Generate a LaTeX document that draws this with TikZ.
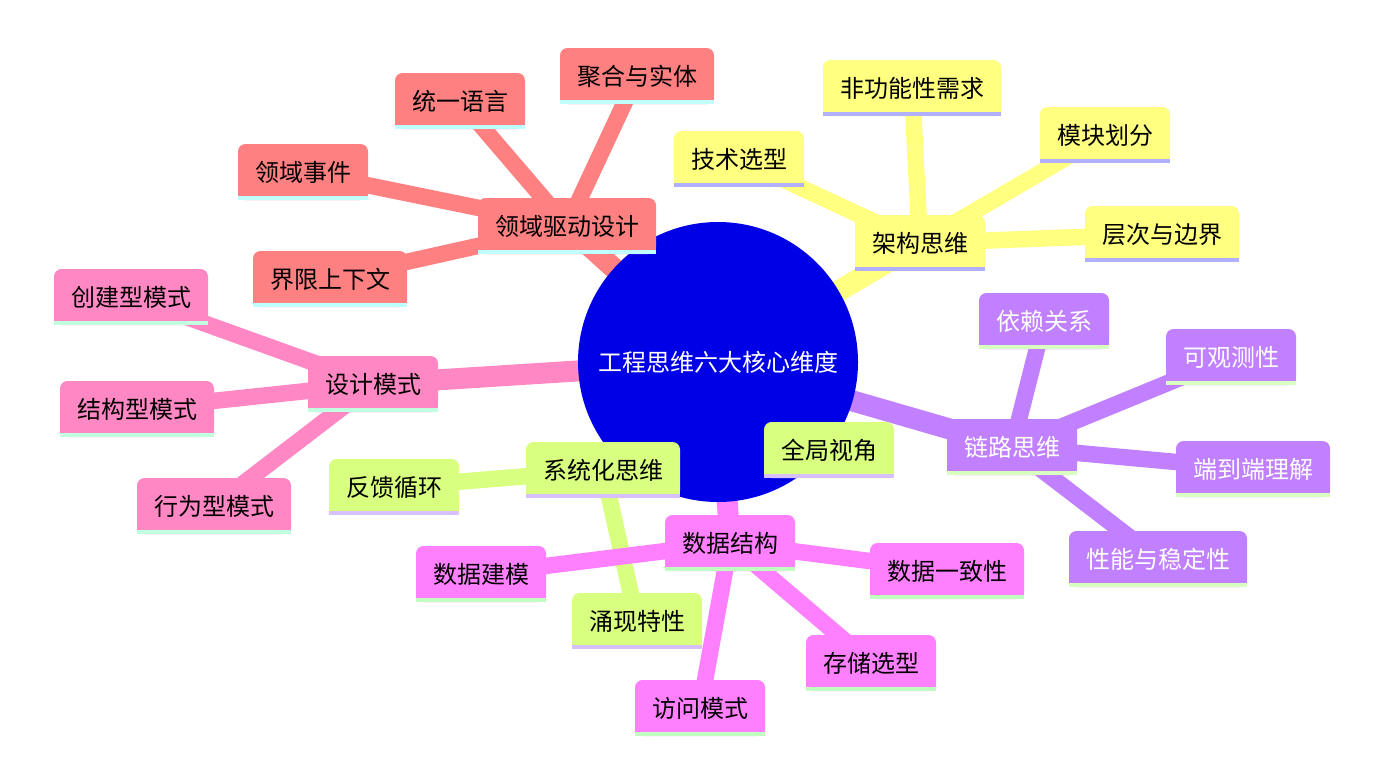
\documentclass[tikz,border=0pt]{standalone}
\usepackage{fontspec}
\usepackage{xcolor}
\newfontfamily\cjk{Noto Sans CJK SC}
\usetikzlibrary{positioning, calc}

\definecolor{rootblue}{HTML}{0000E6}
\definecolor{secred}{HTML}{FF8080}
\definecolor{secyellow}{HTML}{FFFF80}
\definecolor{secpink}{HTML}{FF88C4}
\definecolor{secpurple}{HTML}{C080FF}
\definecolor{secgreen}{HTML}{D8FF80}
\definecolor{secmagenta}{HTML}{FF80FF}
\definecolor{linecyan}{HTML}{C0FFFF}
\definecolor{linelavender}{HTML}{B0B0FF}
\definecolor{linemint}{HTML}{C0FFE0}
\definecolor{linepalegreen}{HTML}{D8FFC0}
\definecolor{linelilac}{HTML}{D8C0FF}
\definecolor{linegreen}{HTML}{C0FFC0}

\pgfdeclarelayer{bg}
\pgfsetlayers{bg,main}

\tikzset{
  mmbox/.style n args={3}{rectangle, inner xsep=17pt, inner ysep=0pt,
    minimum height=56pt, text=#3,
    font=\cjk\fontsize{24}{24}\selectfont,
    path picture={
      \fill[#1, rounded corners=7.5pt] (path picture bounding box.south west)
        rectangle (path picture bounding box.north east);
      \fill[#1] (path picture bounding box.south west)
        rectangle (path picture bounding box.east);
      \fill[#2] (path picture bounding box.south west)
        rectangle ([yshift=4.5pt]path picture bounding box.south east);
    }},
  ddd/.style={mmbox={secred}{linecyan}{black}},
  arch/.style={mmbox={secyellow}{linelavender}{black}},
  pat/.style={mmbox={secpink}{linemint}{black}},
  chain/.style={mmbox={secpurple}{linepalegreen}{white}},
  sys/.style={mmbox={secgreen}{linelilac}{black}},
  data/.style={mmbox={secmagenta}{linegreen}{black}},
  rootedge/.style={line width=21pt},
  leafedge/.style={line width=16.5pt},
}

\begin{document}
\begin{tikzpicture}[x=1pt, y=-1pt]
\useasboundingbox (0,0) rectangle (1380,772);

% root
\node[circle, fill=rootblue, minimum size=280pt, inner sep=0pt, text=white,
  font=\cjk\fontsize{24}{24}\selectfont] (root) at (718,362) {工程思维六大核心维度};

% domain driven design
\node[ddd] (dddmain) at (567,226) {领域驱动设计};
\node[ddd] (lang) at (460,101) {统一语言};
\node[ddd] (aggr) at (637,76) {聚合与实体};
\node[ddd] (event) at (303,172) {领域事件};
\node[ddd] (context) at (330,279) {界限上下文};

% architecture
\node[arch] (archmain) at (920,243) {架构思维};
\node[arch] (nfr) at (912,88) {非功能性需求};
\node[arch] (tech) at (739,159) {技术选型};
\node[arch] (module) at (1105,135) {模块划分};
\node[arch] (layer) at (1162,234) {层次与边界};

% design patterns
\node[pat] (patmain) at (373,384) {设计模式};
\node[pat] (create) at (131,297) {创建型模式};
\node[pat] (struct) at (137,409) {结构型模式};
\node[pat] (behav) at (214,506) {行为型模式};

% chain thinking
\node[chain] (chainmain) at (1012,447) {链路思维};
\node[chain] (depend) at (1044,321) {依赖关系};
\node[chain] (observe) at (1231,357) {可观测性};
\node[chain] (endtoend) at (1253,469) {端到端理解};
\node[chain] (perf) at (1158,559) {性能与稳定性};

% systems thinking
\node[sys] (sysmain) at (603,470) {系统化思维};
\node[sys] (global) at (829,450) {全局视角};
\node[sys] (feedback) at (394,487) {反馈循环};
\node[sys] (emerge) at (637,621) {涌现特性};

% data structures
\node[data] (datamain) at (730,543) {数据结构};
\node[data] (model) at (481,574) {数据建模};
\node[data] (consist) at (947,571) {数据一致性};
\node[data] (storage) at (871,663) {存储选型};
\node[data] (access) at (700,708) {访问模式};

\begin{pgfonlayer}{bg}
\draw[rootedge, secred] (root.center) -- (dddmain.center);
\foreach \n in {lang, aggr, event, context}
  \draw[leafedge, secred] (dddmain.center) -- (\n.center);
\draw[rootedge, secyellow] (root.center) -- (archmain.center);
\foreach \n in {nfr, tech, module, layer}
  \draw[leafedge, secyellow] (archmain.center) -- (\n.center);
\draw[rootedge, secpink] (root.center) -- (patmain.center);
\foreach \n in {create, struct, behav}
  \draw[leafedge, secpink] (patmain.center) -- (\n.center);
\draw[rootedge, secpurple] (root.center) -- (chainmain.center);
\foreach \n in {depend, observe, endtoend, perf}
  \draw[leafedge, secpurple] (chainmain.center) -- (\n.center);
\draw[rootedge, secgreen] (root.center) -- (sysmain.center);
\foreach \n in {global, feedback, emerge}
  \draw[leafedge, secgreen] (sysmain.center) -- (\n.center);
\draw[rootedge, secmagenta] (root.center) -- (datamain.center);
\foreach \n in {model, consist, storage, access}
  \draw[leafedge, secmagenta] (datamain.center) -- (\n.center);
\end{pgfonlayer}
\end{tikzpicture}
\end{document}
